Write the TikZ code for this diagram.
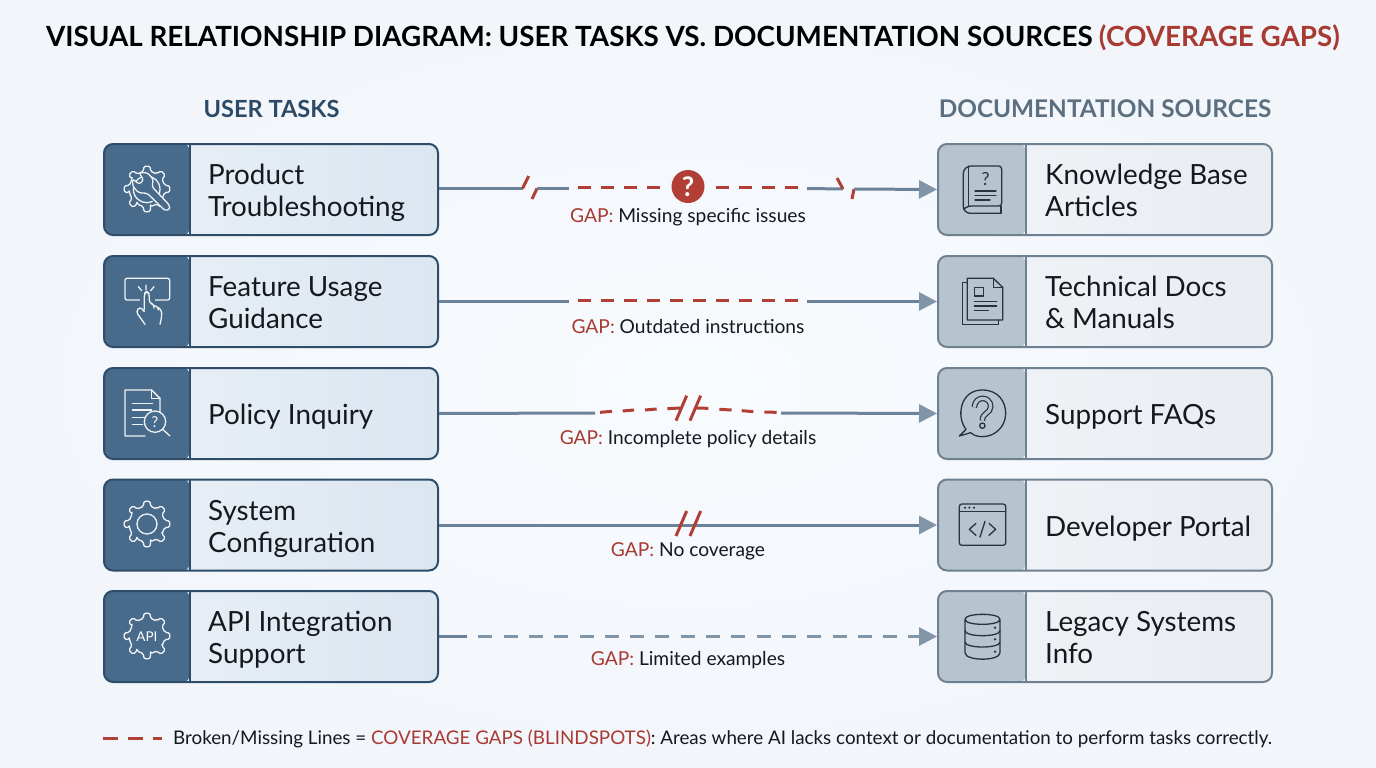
\documentclass[tikz,border=0pt]{standalone}
\usepackage{fontspec}
\setmainfont{Lato}
\usetikzlibrary{arrows.meta,shadings}
\definecolor{bgedge}{HTML}{F2F6FB}
\definecolor{bgmid}{HTML}{F8FBFE}
\definecolor{navy}{HTML}{2E4D6B}
\definecolor{navyfill}{HTML}{486A8B}
\definecolor{paleA}{HTML}{EAF0F7}
\definecolor{paleB}{HTML}{DCE6F0}
\definecolor{slate}{HTML}{6F8090}
\definecolor{slatefill}{HTML}{B6C4D0}
\definecolor{greyA}{HTML}{F0F3F6}
\definecolor{greyB}{HTML}{E9EDF2}
\definecolor{linegrey}{HTML}{6C8298}
\definecolor{tipgrey}{HTML}{8195A8}
\definecolor{gapred}{HTML}{B23F36}
\definecolor{titlered}{HTML}{A83A32}
\definecolor{ink}{HTML}{15191E}
\definecolor{headnavy}{HTML}{2C4A66}
\definecolor{headslate}{HTML}{5B6F80}
\definecolor{iconink}{HTML}{26343F}
\tikzset{
  x=1pt,y=-1pt,
  taskbox/.style={draw=navy,line width=2pt,rounded corners=9pt,minimum width=334pt,minimum height=91pt,inner sep=0pt,
    left color=paleA,right color=paleB,
    path picture={\fill[navyfill] ([xshift=-1pt,yshift=1pt]path picture bounding box.north west) rectangle ++(87,93);
      \draw[navy,line width=1.6pt] ([xshift=86pt]path picture bounding box.north west) -- ([xshift=86pt]path picture bounding box.south west);}},
  docbox/.style={draw=slate,line width=2pt,rounded corners=9pt,minimum width=334pt,minimum height=91pt,inner sep=0pt,
    left color=greyA,right color=greyB,
    path picture={\fill[slatefill] ([xshift=-1pt,yshift=1pt]path picture bounding box.north west) rectangle ++(89,93);
      \draw[slate,line width=1.6pt] ([xshift=88pt]path picture bounding box.north west) -- ([xshift=88pt]path picture bounding box.south west);}},
  boxtext/.style={anchor=west,align=left,inner sep=0pt,text=ink,font=\fontsize{27.8}{32}\selectfont},
  gaplabel/.style={inner sep=0pt,text=ink,font=\fontsize{19.2}{22}\selectfont},
  solidline/.style={draw=linegrey,line width=3pt},
  arrowline/.style={solidline,-{Triangle[length=18pt,width=18pt,color=tipgrey]}},
  reddash/.style={draw=gapred,line width=3pt,dash pattern=on 13pt off 10pt},
  redseg/.style={draw=gapred,line width=3pt},
  lighticon/.style={draw=white!92!navyfill,line width=1.3pt,line join=round,line cap=round},
  darkicon/.style={draw=iconink,line width=1.3pt,line join=round,line cap=round},
  zoomA/.style={shift={(90,130)},x=.33333pt,y=-.33333pt},
  zoomB/.style={shift={(90,360)},x=.33333pt,y=-.33333pt},
  zoomC/.style={shift={(930,130)},x=.33333pt,y=-.33333pt},
  zoomD/.style={shift={(930,360)},x=.33333pt,y=-.33333pt},
}
\newcommand{\gearshape}[3]{% cx cy, outer radius, inner radius
  \draw[lighticon,rounded corners=1.6pt,shift={#1}]
    (-11.25:#3) \foreach \a in {0,45,...,315}{
      -- (\a-11.25:#3) -- (\a-8:#2) -- (\a+8:#2) -- (\a+11.25:#3) -- (\a+33.75:#3)
    } -- cycle;}
\newcommand{\gaplab}[1]{{\color{titlered}GAP:} #1}
\begin{document}
\begin{tikzpicture}
\useasboundingbox (0,0) rectangle (1376,768);
\shade[inner color=bgmid,outer color=bgedge] (0,0) rectangle (1376,768);

% headings
\node[inner sep=0pt,text=black] (title) at (693,37.5) {\fontsize{27.8}{32}\selectfont\bfseries VISUAL RELATIONSHIP DIAGRAM: USER TASKS VS. DOCUMENTATION SOURCES {\color{titlered}(COVERAGE GAPS)}};
\node[inner sep=0pt,text=headnavy] (hleft) at (271.5,108.5) {\fontsize{23.6}{30}\selectfont\bfseries USER TASKS};
\node[inner sep=0pt,text=headslate] (hright) at (1105,108.5) {\fontsize{24.35}{30}\selectfont\bfseries DOCUMENTATION SOURCES};

% boxes
\node[taskbox] (t1) at (271,189.5) {};
\node[taskbox] (t2) at (271,301.5) {};
\node[taskbox] (t3) at (271,413.5) {};
\node[taskbox] (t4) at (271,525) {};
\node[taskbox] (t5) at (271,636.5) {};
\node[docbox] (d1) at (1105,189.5) {};
\node[docbox] (d2) at (1105,301.5) {};
\node[docbox] (d3) at (1105,413.5) {};
\node[docbox] (d4) at (1105,525) {};
\node[docbox] (d5) at (1105,636.5) {};

\node[boxtext] (t1l) at (208,194.5) {\strut Product\\\strut Troubleshooting};
\node[boxtext] (t2l) at (208,306.5) {\strut Feature Usage\\\strut Guidance};
\node[boxtext] (t3l) at (208,418) {\strut Policy Inquiry};
\node[boxtext] (t4l) at (208,530) {\strut System\\\strut Configuration};
\node[boxtext] (t5l) at (208,641.5) {\strut API Integration\\\strut Support};
\node[boxtext] (d1l) at (1045,194.5) {\strut Knowledge Base\\\strut Articles};
\node[boxtext] (d2l) at (1045,306.5) {\strut Technical Docs\\\strut \& Manuals};
\node[boxtext] (d3l) at (1045,418) {\strut Support FAQs};
\node[boxtext] (d4l) at (1045,530) {\strut Developer Portal};
\node[boxtext] (d5l) at (1045,641.5) {\strut Legacy Systems\\\strut Info};

% ---- connector 1
\coordinate (a1) at (522.5,188.5);
\coordinate (a1t) at (528.7,176);
\coordinate (a2) at (537,188.5);
\coordinate (a2b) at (532,199);
\coordinate (a3) at (569,188.5);
\coordinate (a4) at (578,187.5);
\coordinate (a5) at (660,187.5);
\coordinate (a6) at (716,187.5);
\coordinate (a7) at (798,187.5);
\coordinate (a8) at (807,188.5);
\coordinate (a9) at (843,189);
\coordinate (a9t) at (837,178);
\coordinate (a10) at (854,189);
\coordinate (a10b) at (852,199);
\node[circle,fill=gapred,minimum size=33pt,inner sep=0pt,text=white,font=\fontsize{27}{28}\selectfont\bfseries] (q1) at (688,186.5) {?};
\draw[solidline] (t1.east |- a1) -- (a1);
\draw[redseg] (a1) -- (a1t);
\draw[redseg] (a2) -- (a2b);
\draw[solidline] (a2) -- (a3);
\draw[reddash] (a4) -- (a5);
\draw[reddash] (a6) -- (a7);
\draw[solidline] (a8) -- (a9);
\draw[redseg] (a9) -- (a9t);
\draw[redseg] (a10) -- (a10b);
\draw[arrowline] (a10) -- (d1.west);
\node[gaplabel] (g1) at (688,217) {\gaplab{Missing specific issues}};

% ---- connector 2
\coordinate (b1) at (569,301.5);
\coordinate (b2) at (578,300.5);
\coordinate (b3) at (798,300.5);
\coordinate (b4) at (807,301.5);
\draw[solidline] (t2.east) -- (b1);
\draw[reddash] (b2) -- (b3);
\draw[arrowline] (b4) -- (d2.west);
\node[gaplabel] (g2) at (688,327) {\gaplab{Outdated instructions}};

% ---- connector 3
\coordinate (c1) at (595,413);
\draw[solidline] (t3.east) -- (c1);
\begin{scope}[shift={(430,380)},x=.33333pt,y=-.33333pt]
  \draw[redseg] (510,97) -- (546,94);
  \draw[redseg] (578,93) -- (612,90);
  \draw[redseg] (645,90) -- (680,87);
  \draw[redseg] (712,86) -- (750,84);
  \draw[redseg] (770,47) -- (738,122);
  \draw[redseg] (812,47) -- (780,122);
  \draw[redseg] (800,84) -- (835,85);
  \draw[redseg] (868,88) -- (905,90);
  \draw[redseg] (935,92) -- (970,95);
  \draw[redseg] (1003,96) -- (1040,97);
\end{scope}
\coordinate (c2) at (781,413);
\draw[arrowline] (c2) -- (d3.west);
\node[gaplabel] (g3) at (688,439) {\gaplab{Incomplete policy details}};

% ---- connector 4
\draw[arrowline] (t4.east) -- (d4.west);
\begin{scope}[shift={(430,380)},x=.33333pt,y=-.33333pt]
  \draw[redseg] (770,393) -- (738,468);
  \draw[redseg] (812,393) -- (780,468);
\end{scope}
\node[gaplabel] (g4) at (688,551) {\gaplab{No coverage}};

% ---- connector 5
\coordinate (e1) at (467,636.5);
\coordinate (e2) at (478.3,636.5);
\coordinate (e3) at (920,636.5);
\coordinate (e4) at (919,636.5);
\draw[solidline] (t5.east) -- (e1);
\draw[draw=tipgrey,line width=3pt,dash pattern=on 14pt off 11.3pt] (e2) -- (e3);
\draw[draw=tipgrey,line width=3pt,-{Triangle[length=18pt,width=18pt,color=tipgrey]}] (e4) -- (d5.west);
\node[gaplabel] (g5) at (688,660) {\gaplab{Limited examples}};

% legend
\coordinate (l1) at (103,738);
\coordinate (l2) at (162,738);
\draw[draw=gapred,line width=3pt,dash pattern=on 15pt off 10pt] (l1) -- (l2);
\node[inner sep=0pt,anchor=west,text=ink] (legend) at (173,739) {\fontsize{18.8}{22}\selectfont Broken/Missing Lines = {\color{titlered}COVERAGE GAPS (BLINDSPOTS)}: Areas where AI lacks context or documentation to perform tasks correctly.};

% ---- icons, left column
\gearshape{(147,189)}{23}{18}
\begin{scope}[zoomA]
  \draw[lighticon] (170,178) ++(65:40) arc[start angle=65,end angle=385,radius=40];
  \filldraw[lighticon,fill=navyfill,rounded corners=2.5pt] (147,128) -- (172,128) -- (190,148) -- (186,170) -- (238,225) -- (240,238) -- (225,242) -- (172,190) -- (145,188) -- (128,168) -- (128,146) -- (147,163) -- (161,150) -- cycle;
\end{scope}
\begin{scope}[zoomA]
  \draw[lighticon,rounded corners=2pt] (105,445) rectangle (239,510);
  \draw[lighticon] (168,465) -- (168,480) (145,470) -- (155,482) (192,470) -- (182,482);
  \fill[navyfill] (150,500) rectangle (195,520);
  \draw[lighticon,rounded corners=3pt] (163,540) -- (163,490) -- (170,484) -- (178,490) -- (178,520) -- (192,522) -- (192,535);
  \draw[lighticon,rounded corners=3pt] (192,527) -- (205,530) -- (205,540);
  \draw[lighticon,rounded corners=3pt] (205,533) -- (215,540) -- (215,560) -- (210,583);
  \draw[lighticon,rounded corners=3pt] (163,545) -- (150,530) -- (138,545) -- (165,583);
\end{scope}
\begin{scope}[zoomB]
  \draw[lighticon] (165,228) -- (105,228) -- (105,90) -- (185,90) -- (210,115) -- (210,155);
  \draw[lighticon] (185,90) -- (185,115) -- (210,115);
  \draw[lighticon] (127,130) -- (188,130) (127,150) -- (185,150) (127,172) -- (165,172) (127,193) -- (158,193);
  \draw[lighticon] (195,185) circle[radius=32];
  \draw[lighticon] (218,208) -- (240,228);
  \node[inner sep=0pt,text=white,font=\fontsize{15}{16}\selectfont] (iq3) at (195,185) {?};
\end{scope}
\gearshape{(147,524)}{23}{18}
\draw[lighticon] (147,524) circle[radius=10];
\gearshape{(147,636)}{23}{18}
\node[inner sep=0pt,text=white,font=\fontsize{13.5}{14}\selectfont] (iapi) at (147,636.5) {API};

% ---- icons, right column
\begin{scope}[zoomC]
  \draw[darkicon,rounded corners=3pt] (213,250) -- (112,250) -- (100,238) -- (100,120) -- (115,108) -- (215,108) -- (215,228) -- (115,228) -- (100,238);
  \draw[darkicon] (115,108) -- (115,228) (213,228) -- (213,250);
  \draw[darkicon] (135,183) -- (198,183) (135,197) -- (198,197) (135,210) -- (180,210);
  \node[inner sep=0pt,text=iconink,font=\fontsize{18}{20}\selectfont] (iq1) at (167,148) {?};
\end{scope}
\begin{scope}[zoomC]
  \draw[darkicon] (112,570) -- (112,445) -- (190,445) -- (218,472) -- (218,570) -- cycle;
  \draw[darkicon] (190,445) -- (190,472) -- (218,472);
  \draw[darkicon] (112,458) -- (97,458) -- (97,583) -- (205,583) -- (205,570);
  \draw[darkicon] (133,472) rectangle (160,498);
  \draw[darkicon] (133,515) -- (200,515) (133,528) -- (200,528) (133,542) -- (175,542);
\end{scope}
\begin{scope}[zoomD]
  \draw[darkicon] (108,208) .. controls (78,170) and (90,90) .. (157,90) .. controls (205,90) and (227,125) .. (227,160) .. controls (227,200) and (195,230) .. (157,230) .. controls (140,230) and (130,225) .. (122,218) -- (88,228) -- cycle;
  \draw[iconink,line width=1.2pt,double=slatefill,double distance=3.2pt,line cap=butt] (133,142) .. controls (135,105) and (182,108) .. (182,140) .. controls (182,160) and (157,158) .. (157,182);
  \draw[darkicon] (157,197) circle[radius=8];
\end{scope}
\begin{scope}[zoomD]
  \draw[darkicon,rounded corners=2.5pt] (88,432) rectangle (227,556);
  \draw[darkicon] (88,455) -- (227,455);
  \fill[iconink] (105,443) circle[radius=3.5] (118,443) circle[radius=3.5] (132,443) circle[radius=3.5];
  \draw[darkicon] (138,490) -- (118,508) -- (138,526);
  \draw[darkicon] (165,484) -- (150,531);
  \draw[darkicon] (177,490) -- (197,508) -- (177,526);
\end{scope}
\begin{scope}[zoomD]
  \draw[darkicon] (105,778) .. controls (105,758) and (210,758) .. (210,778) .. controls (210,798) and (105,798) .. (105,778) -- (105,878) .. controls (105,904) and (210,904) .. (210,878) -- (210,778);
  \draw[darkicon] (105,812) .. controls (105,832) and (210,832) .. (210,812);
  \draw[darkicon] (105,846) .. controls (105,866) and (210,866) .. (210,846);
  \fill[iconink] (195,803) circle[radius=4] (195,838) circle[radius=4] (195,875) circle[radius=4];
\end{scope}
\end{tikzpicture}
\end{document}
